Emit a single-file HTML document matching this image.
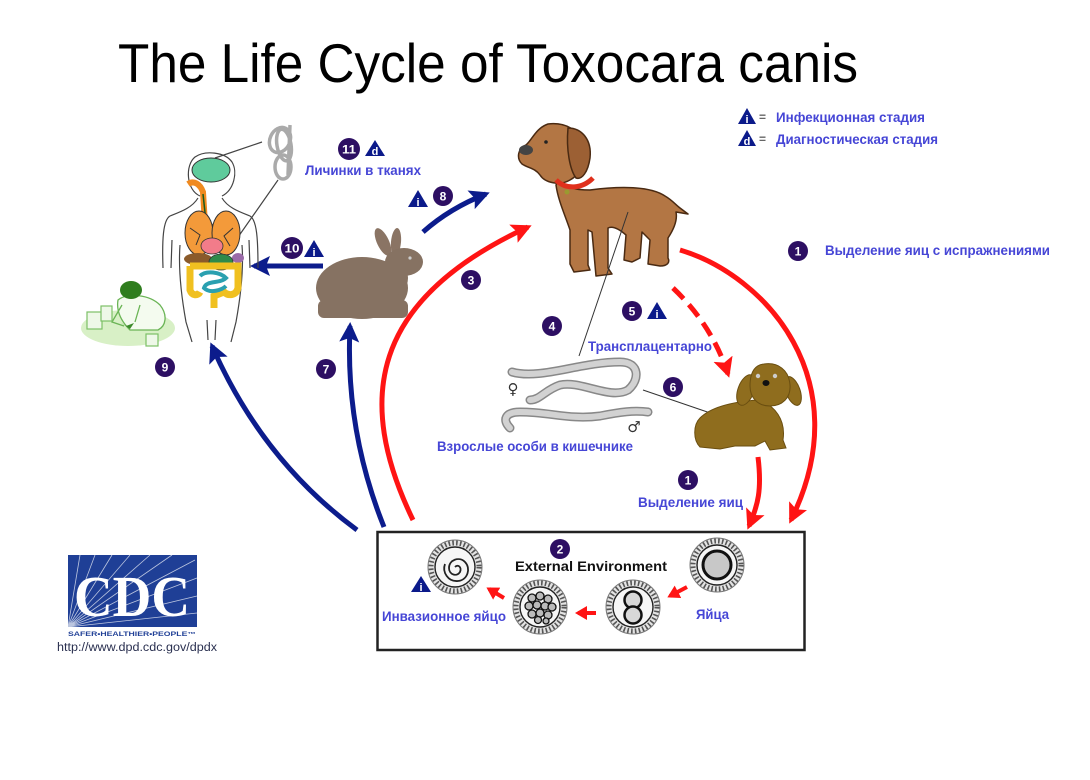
<!DOCTYPE html>
<html><head><meta charset="utf-8"><style>
html,body{margin:0;padding:0;background:#fff;}
svg{display:block;}
.lb{font-family:"Liberation Sans","DejaVu Sans",sans-serif;font-weight:bold;font-size:14px;fill:#4646d6;}
.nm{font-family:"Liberation Sans",sans-serif;font-weight:bold;font-size:12px;fill:#fff;text-anchor:middle;}
.tl{font-family:"Liberation Sans",sans-serif;font-weight:bold;font-size:11px;fill:#fff;text-anchor:middle;}
</style></head><body>
<svg width="1090" height="780" viewBox="0 0 1090 780" xmlns="http://www.w3.org/2000/svg">
<defs>
<marker id="hr" markerUnits="userSpaceOnUse" markerWidth="24" markerHeight="22" refX="16" refY="10" orient="auto"><path d="M0,0 L20,10 L0,20 L4,10 z" fill="#ff1414"/></marker>
<marker id="hb" markerUnits="userSpaceOnUse" markerWidth="24" markerHeight="22" refX="16" refY="10" orient="auto"><path d="M0,0 L20,10 L0,20 L4,10 z" fill="#0c1c8c"/></marker>
<marker id="hs" markerUnits="userSpaceOnUse" markerWidth="14" markerHeight="14" refX="9" refY="7" orient="auto"><path d="M0,0 L12,7 L0,14 z" fill="#ff1414"/></marker>
<g id="ring">
<circle r="27" fill="#e4e4e4" stroke="#777" stroke-width="1"/>
<circle r="24" fill="none" stroke="#555" stroke-width="5" stroke-dasharray="1.6 2.2"/>
<circle r="20" fill="#f6f6f6" stroke="#222" stroke-width="1.4"/>
</g>
</defs>
<rect width="1090" height="780" fill="#fff"/>

<!-- Title -->
<text x="118" y="82" font-family="Liberation Sans, sans-serif" font-size="55" fill="#000" textLength="740" lengthAdjust="spacingAndGlyphs">The Life Cycle of Toxocara canis</text>

<!-- Legend -->
<polygon points="738,124 747,108 756,124" fill="#0b1a8a"/><text x="747" y="123" class="tl">i</text>
<text x="759" y="121" font-family="Liberation Sans,sans-serif" font-size="12" font-weight="bold" fill="#666">=</text>
<text x="776" y="122" class="lb" textLength="149" lengthAdjust="spacingAndGlyphs">Инфекционная стадия</text>
<polygon points="738,146 747,130 756,146" fill="#0b1a8a"/><text x="747" y="145" class="tl">d</text>
<text x="759" y="143" font-family="Liberation Sans,sans-serif" font-size="12" font-weight="bold" fill="#666">=</text>
<text x="776" y="144" class="lb" textLength="162" lengthAdjust="spacingAndGlyphs">Диагностическая стадия</text>

<!-- Arrows -->
<path d="M413,520 C355,400 370,300 528,227" fill="none" stroke="#ff1414" stroke-width="5" marker-end="url(#hr)"/>
<path d="M680,250 C765,275 860,380 791,520" fill="none" stroke="#ff1414" stroke-width="5" marker-end="url(#hr)"/>
<path d="M758,457 C762,490 758,505 749,526" fill="none" stroke="#ff1414" stroke-width="5" marker-end="url(#hr)"/>
<path d="M673,288 Q712,325 728,374" fill="none" stroke="#ff1414" stroke-width="5" stroke-dasharray="15 8" marker-end="url(#hr)"/>
<path d="M423,232 Q450,208 486,194" fill="none" stroke="#0c1c8c" stroke-width="5" marker-end="url(#hb)"/>
<path d="M323,266 L254,266" fill="none" stroke="#0c1c8c" stroke-width="5" marker-end="url(#hb)"/>
<path d="M384,527 Q345,430 350,326" fill="none" stroke="#0c1c8c" stroke-width="5" marker-end="url(#hb)"/>
<path d="M357,530 Q262,460 212,346" fill="none" stroke="#0c1c8c" stroke-width="5" marker-end="url(#hb)"/>

<!-- Kid (9) -->
<ellipse cx="128" cy="328" rx="47" ry="18" fill="#d8f0c6"/>
<path d="M118,300 C128,292 150,295 160,305 C168,315 166,326 158,330 L130,330 C122,322 116,312 118,300 Z" fill="#f4fbef" stroke="#6ab455" stroke-width="1.3"/>
<path d="M122,305 L112,322 L124,326 M140,305 L135,322" fill="none" stroke="#6ab455" stroke-width="1.3"/>
<ellipse cx="131" cy="290" rx="11" ry="9" fill="#2f7d1e"/>
<rect x="87" y="312" width="15" height="17" fill="#eef8e8" stroke="#7cc066" stroke-width="1.2"/>
<rect x="101" y="306" width="11" height="15" fill="#eef8e8" stroke="#7cc066" stroke-width="1.2"/>
<rect x="146" y="334" width="12" height="12" fill="#eef8e8" stroke="#7cc066" stroke-width="1.2"/>
<path d="M120,322 l6,4 l8,-3 l-4,6 z" fill="#3c8a2a"/>

<!-- Human -->
<g fill="none" stroke="#444" stroke-width="1.2">
<path d="M200,196 C186,190 185,165 195,157 C205,150 225,152 232,162 C238,172 234,190 222,196"/>
<path d="M198,198 C192,208 180,212 170,216 C163,220 162,240 163,268"/>
<path d="M222,198 C228,208 240,212 250,216 C257,220 258,240 258,268"/>
<path d="M172,240 L171,268 M249,240 L250,268"/>
<path d="M180,245 C178,272 182,300 186,322 L192,342"/>
<path d="M242,245 C244,272 240,300 236,322 L231,342"/>
<path d="M207,320 L208,340 M216,320 L215,340"/>
<path d="M215,158 L262,142 M236,240 L278,180"/>
</g>
<ellipse cx="211" cy="170" rx="19" ry="12" fill="#5fcb9c" stroke="#333" stroke-width="1"/>
<path d="M188,184 C194,180 200,184 203,192 L206,240" fill="none" stroke="#f08a20" stroke-width="6"/>
<path d="M203,194 L208,240" fill="none" stroke="#1a5a1a" stroke-width="1.5"/>
<ellipse cx="199" cy="233" rx="14" ry="22" fill="#f39a3a" stroke="#333" stroke-width="1"/>
<ellipse cx="226" cy="233" rx="14" ry="22" fill="#f39a3a" stroke="#333" stroke-width="1"/>
<path d="M190,228 L200,235 L196,245 M233,228 L224,236 L230,246" fill="none" stroke="#333" stroke-width="1"/>
<ellipse cx="212" cy="246" rx="11" ry="8" fill="#f27c8a" stroke="#333" stroke-width="0.8"/>
<ellipse cx="198" cy="259" rx="14" ry="6" fill="#8a5a2a"/>
<ellipse cx="238" cy="258" rx="6" ry="5" fill="#9a6aa8"/>
<ellipse cx="221" cy="262" rx="12" ry="8" fill="#2e8a4a" stroke="#333" stroke-width="0.8"/>
<path d="M190,266 L190,290 C192,296 198,296 200,292 M190,266 L238,266 L238,288 C236,296 228,296 224,292 L214,296 L214,308" fill="none" stroke="#f0c020" stroke-width="7"/>
<path d="M200,276 C206,270 220,272 226,278 C220,284 206,280 204,288 C210,294 222,290 226,286" fill="none" stroke="#2aa0b0" stroke-width="4"/>
<!-- coil worm -->
<g fill="none" stroke="#aaa" stroke-width="3.5">
<ellipse cx="280" cy="140" rx="10" ry="13" transform="rotate(25 280 140)"/>
<ellipse cx="284" cy="145" rx="7" ry="16" transform="rotate(-10 284 145)"/>
<ellipse cx="283" cy="167" rx="8" ry="12"/>
<path d="M290,125 L288,175"/>
</g>

<!-- Rabbit -->
<ellipse cx="383" cy="242" rx="6" ry="15" transform="rotate(-25 383 242)" fill="#8a7464"/>
<ellipse cx="396" cy="242" rx="5" ry="14" transform="rotate(5 396 242)" fill="#8a7464"/>
<ellipse cx="362" cy="288" rx="46" ry="31" fill="#867262"/>
<rect x="318" y="300" width="90" height="18" rx="6" fill="#867262"/>
<ellipse cx="404" cy="262" rx="19" ry="14" fill="#867262"/>
<ellipse cx="392" cy="278" rx="16" ry="18" fill="#867262"/>
<circle cx="410" cy="258" r="1.6" fill="#ccc"/>

<!-- Big dog -->
<g stroke="#4a2a12" stroke-width="1.5" stroke-linejoin="round">
<path d="M560,178 C565,188 575,190 590,190 C620,186 650,186 665,196 C672,200 676,205 680,208 L688,214 L676,212 C678,222 672,232 668,238 L668,258 C670,262 668,266 660,266 L648,264 L650,240 L642,232 L640,258 L632,262 L624,260 L626,235 C618,228 612,226 608,228 L608,268 L612,274 L596,276 L592,232 L588,230 L588,265 L590,270 L574,272 L570,264 L570,230 C565,215 558,200 556,185 Z" fill="#b37644"/>
<path d="M548,124 C565,122 580,130 584,145 C586,160 580,175 570,180 C560,186 545,183 540,175 C535,168 528,168 522,164 C516,158 518,148 526,145 C532,140 536,128 548,124 Z" fill="#b37644"/>
<path d="M568,128 C582,128 592,140 590,158 C588,172 582,180 576,178 C570,170 566,150 568,128 Z" fill="#9c6034"/>
</g>
<ellipse cx="526" cy="150" rx="7" ry="5" fill="#444"/>
<circle cx="546" cy="142" r="1.8" fill="#222"/>
<path d="M556,180 C566,190 582,189 593,178" fill="none" stroke="#e0301c" stroke-width="5"/>
<circle cx="567" cy="192" r="2.5" fill="#9a9a30"/>

<!-- Worms -->
<g fill="none" stroke-linecap="round">
<path d="M512,372 C540,380 580,362 620,362 C640,362 640,380 628,390 C610,400 580,380 560,385 C545,390 540,400 530,400" stroke="#888" stroke-width="9"/>
<path d="M512,372 C540,380 580,362 620,362 C640,362 640,380 628,390 C610,400 580,380 560,385 C545,390 540,400 530,400" stroke="#d2d2d2" stroke-width="6"/>
<path d="M510,428 C502,420 505,412 520,412 C550,412 570,420 600,416 C620,412 635,410 648,412" stroke="#888" stroke-width="9"/>
<path d="M510,428 C502,420 505,412 520,412 C550,412 570,420 600,416 C620,412 635,410 648,412" stroke="#d2d2d2" stroke-width="6"/>
</g>
<text x="513" y="394" font-family="DejaVu Sans,sans-serif" font-size="15" fill="#333" text-anchor="middle">♀</text>
<text x="634" y="432" font-family="DejaVu Sans,sans-serif" font-size="15" fill="#333" text-anchor="middle">♂</text>
<path d="M628,212 L579,356" stroke="#333" stroke-width="1"/>
<path d="M643,390 L722,417" stroke="#333" stroke-width="1"/>

<!-- Puppy -->
<g fill="#8f6d1e" stroke="#6a4e10" stroke-width="1">
<path d="M758,400 C775,405 786,420 783,440 L786,448 L770,450 L765,441 L755,446 L735,446 L720,449 L700,447 C693,440 693,425 700,418 C710,408 730,402 758,400 Z"/>
<ellipse cx="746" cy="390" rx="8" ry="16" transform="rotate(20 746 390)"/>
<ellipse cx="793" cy="391" rx="7" ry="15" transform="rotate(-20 793 391)"/>
<path d="M764,364 C778,362 789,370 790,385 C791,398 782,406 770,406 C758,406 750,398 750,386 C750,373 754,365 764,364 Z"/>
</g>
<circle cx="758" cy="376" r="2.2" fill="#ccc"/><circle cx="775" cy="376" r="2.2" fill="#ccc"/>
<ellipse cx="766" cy="383" rx="3.5" ry="3" fill="#111"/>

<!-- Labels -->
<text x="305" y="175" class="lb" textLength="116" lengthAdjust="spacingAndGlyphs">Личинки в тканях</text>
<text x="825" y="255" class="lb" textLength="225" lengthAdjust="spacingAndGlyphs">Выделение яиц с испражнениями</text>
<text x="588" y="351" class="lb" textLength="124" lengthAdjust="spacingAndGlyphs">Трансплацентарно</text>
<text x="437" y="451" class="lb" textLength="196" lengthAdjust="spacingAndGlyphs">Взрослые особи в кишечнике</text>
<text x="638" y="507" class="lb" textLength="105" lengthAdjust="spacingAndGlyphs">Выделение яиц</text>

<!-- Numbers -->
<g fill="#2d0f63">
<circle cx="798" cy="251" r="10"/><circle cx="349" cy="149" r="11"/><circle cx="292" cy="248" r="11"/>
<circle cx="443" cy="196" r="10"/><circle cx="471" cy="280" r="10"/><circle cx="165" cy="367" r="10"/>
<circle cx="326" cy="369" r="10"/><circle cx="632" cy="311" r="10"/><circle cx="552" cy="326" r="10"/>
<circle cx="673" cy="387" r="10"/><circle cx="688" cy="480" r="10"/><circle cx="560" cy="549" r="10"/>
</g>
<text x="798" y="255.5" class="nm">1</text>
<text x="349" y="153.5" class="nm" textLength="14" lengthAdjust="spacingAndGlyphs">11</text>
<text x="292" y="252.5" class="nm" textLength="15" lengthAdjust="spacingAndGlyphs">10</text>
<text x="443" y="200.5" class="nm">8</text>
<text x="471" y="284.5" class="nm">3</text>
<text x="165" y="371.5" class="nm">9</text>
<text x="326" y="373.5" class="nm">7</text>
<text x="632" y="315.5" class="nm">5</text>
<text x="552" y="330.5" class="nm">4</text>
<text x="673" y="391.5" class="nm">6</text>
<text x="688" y="484.5" class="nm">1</text>
<text x="560" y="553.5" class="nm">2</text>

<!-- Triangles -->
<g fill="#0b1a8a">
<polygon points="365,156 375,140 385,156"/>
<polygon points="304,257 314,240 324,257"/>
<polygon points="408,207 418,190 428,207"/>
<polygon points="647,319 657,302 667,319"/>
<polygon points="411,592 421,576 431,592"/>
</g>
<text x="375" y="155" class="tl">d</text>
<text x="314" y="256" class="tl">i</text>
<text x="418" y="206" class="tl">i</text>
<text x="657" y="318" class="tl">i</text>
<text x="421" y="591" class="tl">i</text>

<!-- Box -->
<rect x="377.5" y="532" width="427" height="118" fill="none" stroke="#222" stroke-width="2.5"/>
<text x="515" y="571" font-family="Liberation Sans,sans-serif" font-weight="bold" font-size="13.5" fill="#111" textLength="152" lengthAdjust="spacingAndGlyphs">External Environment</text>

<!-- Eggs -->
<g transform="translate(717,565)"><use href="#ring"/><circle r="14" fill="#c8c8c8" stroke="#111" stroke-width="3"/></g>
<g transform="translate(633,607)"><use href="#ring"/><circle cy="-7" r="8.5" fill="#d8d8d8" stroke="#111" stroke-width="2.5"/><circle cy="8" r="8.5" fill="#d8d8d8" stroke="#111" stroke-width="2.5"/></g>
<g transform="translate(540,607)"><use href="#ring"/>
<g fill="#bbb" stroke="#111" stroke-width="1.3">
<circle cx="-8" cy="-9" r="4"/><circle cx="0" cy="-11" r="4"/><circle cx="8" cy="-8" r="4"/>
<circle cx="-11" cy="-1" r="4"/><circle cx="-3" cy="-2" r="4"/><circle cx="5" cy="-1" r="4"/><circle cx="12" cy="0" r="4"/>
<circle cx="-8" cy="7" r="4"/><circle cx="0" cy="6" r="4"/><circle cx="8" cy="8" r="4"/>
<circle cx="-2" cy="13" r="3.5"/><circle cx="6" cy="14" r="3"/></g></g>
<g transform="translate(455,567)"><use href="#ring"/><path d="M0,0 c3,-3 7,0 5,5 c-3,5 -11,3 -11,-4 c0,-8 10,-12 16,-6 c6,6 3,18 -7,19 c-10,1 -16,-9 -13,-17" fill="none" stroke="#222" stroke-width="1.8"/></g>
<path d="M687,587 L670,596" stroke="#ff1414" stroke-width="4" marker-end="url(#hs)"/>
<path d="M596,613 L578,613" stroke="#ff1414" stroke-width="4" marker-end="url(#hs)"/>
<path d="M504,598 L489,589" stroke="#ff1414" stroke-width="4" marker-end="url(#hs)"/>
<text x="382" y="621" class="lb" textLength="124" lengthAdjust="spacingAndGlyphs">Инвазионное яйцо</text>
<text x="696" y="619" class="lb" textLength="33" lengthAdjust="spacingAndGlyphs">Яйца</text>

<!-- CDC logo -->
<rect x="68" y="555" width="129" height="72" fill="#1f3f96"/>
<g stroke="#fff" stroke-width="0.8" opacity="0.7">
<path d="M68,627 L80,555 M68,627 L95,555 M68,627 L112,555 M68,627 L130,555 M68,627 L150,555 M68,627 L172,555 M68,627 L195,560 M68,627 L197,578 M68,627 L197,596 M68,627 L197,613"/>
</g>
<text x="132" y="616" font-family="Liberation Serif,serif" font-weight="bold" font-size="58" fill="#fff" text-anchor="middle" textLength="116" lengthAdjust="spacingAndGlyphs">CDC</text>
<text x="68" y="636" font-family="Liberation Sans,sans-serif" font-weight="bold" font-size="6" fill="#1f3f96" textLength="128" lengthAdjust="spacingAndGlyphs">SAFER•HEALTHIER•PEOPLE™</text>
<text x="57" y="651" font-family="Liberation Sans,sans-serif" font-size="11.5" fill="#2a3050" textLength="160" lengthAdjust="spacingAndGlyphs">http://www.dpd.cdc.gov/dpdx</text>
</svg>
</body></html>
